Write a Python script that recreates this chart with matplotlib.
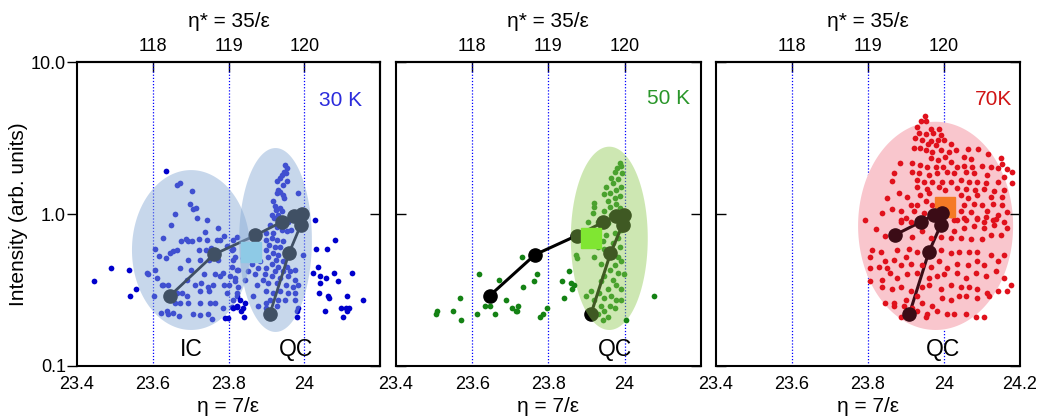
import numpy as np
import matplotlib
matplotlib.use('Agg')
import matplotlib.pyplot as plt
from matplotlib.ticker import NullLocator

plt.rcParams['font.family'] = ['Liberation Sans', 'DejaVu Sans']

# ---- data (eta, intensity) ----
# big dots joined by the line (same tail in all panels)
path30 = [(23.645, 0.289), (23.762, 0.543), (23.871, 0.724), (23.940, 0.886), (23.973, 0.97),
          (23.995, 1.00), (23.991, 0.85), (23.960, 0.556), (23.909, 0.22)]
path50 = [(23.646, 0.29), (23.765, 0.54), (23.874, 0.72), (23.943, 0.88), (23.978, 0.97),
          (23.998, 0.99), (23.995, 0.85), (23.963, 0.55), (23.912, 0.22)]
path70 = [(23.872, 0.73), (23.940, 0.89), (23.973, 0.985), (23.995, 1.01), (23.992, 0.85),
          (23.960, 0.56), (23.909, 0.22)]

# squares
sq30 = (23.859, 0.56)
sq50 = (23.913, 0.70)
sq70 = (24.002, 1.11)

# 30 K points inside the IC / QC regions
pts30_in = [
    (23.663, 1.55), (23.672, 1.61), (23.703, 1.42), (23.698, 1.16), (23.707, 1.08), (23.714, 1.10),
    (23.659, 1.00), (23.718, 0.94), (23.742, 0.92), (23.647, 0.85), (23.738, 0.76), (23.773, 0.81),
    (23.626, 0.70), (23.674, 0.66), (23.688, 0.68), (23.694, 0.66), (23.703, 0.66), (23.723, 0.68),
    (23.742, 0.67), (23.769, 0.67), (23.778, 0.67), (23.788, 0.72), (23.663, 0.58), (23.654, 0.57),
    (23.646, 0.55), (23.635, 0.51), (23.617, 0.53), (23.606, 0.59), (23.723, 0.58), (23.741, 0.58),
    (23.753, 0.60), (23.694, 0.50), (23.725, 0.50), (23.749, 0.50), (23.771, 0.50), (23.584, 0.41),
    (23.588, 0.40), (23.606, 0.43), (23.612, 0.38), (23.672, 0.44), (23.700, 0.43), (23.735, 0.40),
    (23.764, 0.40), (23.778, 0.39), (23.786, 0.41), (23.628, 0.34), (23.624, 0.34), (23.641, 0.34),
    (23.690, 0.37), (23.712, 0.34), (23.727, 0.35), (23.747, 0.33), (23.758, 0.34), (23.788, 0.34),
    (23.602, 0.29), (23.663, 0.30), (23.676, 0.30), (23.690, 0.29), (23.725, 0.31), (23.749, 0.31),
    (23.659, 0.26), (23.672, 0.26), (23.694, 0.26), (23.725, 0.26), (23.751, 0.26), (23.764, 0.26),
    (23.785, 0.24), (23.621, 0.222), (23.637, 0.23), (23.639, 0.22), (23.653, 0.224), (23.670, 0.213),
    (23.705, 0.22), (23.725, 0.216), (23.747, 0.22), (23.756, 0.203), (23.808, 0.245), (23.795, 0.30),
    (23.800, 0.34), (23.804, 0.39), (23.808, 0.45), (23.813, 0.50), (23.822, 0.43), (23.817, 0.36),
    (23.822, 0.29), (23.823, 0.245), (23.813, 0.59), (23.795, 0.62),
    (23.949, 2.10), (23.953, 2.00), (23.946, 1.90), (23.952, 1.85), (23.940, 1.81), (23.936, 1.72),
    (23.955, 1.66), (23.929, 1.66), (23.944, 1.55), (23.931, 1.44), (23.937, 1.40), (23.927, 1.37),
    (23.943, 1.33), (23.984, 1.38), (23.946, 1.27), (23.918, 1.21), (23.922, 1.13), (23.936, 1.09),
    (23.925, 1.06), (23.940, 1.04), (23.931, 0.99), (23.914, 0.99), (23.920, 0.94), (23.966, 0.95),
    (23.958, 0.89), (23.909, 0.85), (23.927, 0.82), (23.940, 0.79), (23.966, 0.79), (23.953, 0.77),
    (23.918, 0.75), (23.900, 0.75), (23.899, 0.67), (23.914, 0.69), (23.927, 0.67), (23.944, 0.66),
    (23.908, 0.63), (23.922, 0.61), (23.936, 0.61), (23.900, 0.58), (23.918, 0.55), (23.931, 0.54),
    (23.958, 0.54), (23.905, 0.52), (23.925, 0.50), (23.943, 0.49), (23.997, 0.54), (23.914, 0.47),
    (23.931, 0.45), (23.953, 0.45), (23.900, 0.44), (23.922, 0.42), (23.944, 0.42), (23.962, 0.42),
    (23.975, 0.43), (23.896, 0.40), (23.916, 0.39), (23.936, 0.38), (23.958, 0.39), (23.975, 0.37),
    (23.892, 0.37), (23.905, 0.35), (23.927, 0.35), (23.952, 0.34), (23.971, 0.33), (23.984, 0.34),
    (23.900, 0.31), (23.918, 0.30), (23.936, 0.31), (23.958, 0.30), (23.975, 0.30), (23.909, 0.27),
    (23.931, 0.27), (23.949, 0.27), (23.975, 0.27), (23.900, 0.26), (23.927, 0.25), (23.984, 0.24),
    (23.980, 0.23), (23.900, 0.24), (23.878, 0.25), (23.865, 0.29), (23.874, 0.34), (23.870, 0.40),
    (23.878, 0.44), (23.883, 0.49), (23.861, 0.47), (23.852, 0.42), (23.843, 0.37), (23.826, 0.33),
    (23.821, 0.30), (23.813, 0.27), (23.817, 0.38), (23.826, 0.43), (23.839, 0.51), (23.817, 0.52),
    (23.808, 0.58), (23.813, 0.67), (23.821, 0.71),
]
# 30 K points outside the shaded regions
pts30_out = [
    (23.446, 0.36), (23.489, 0.44), (23.536, 0.43), (23.555, 0.32), (23.540, 0.29), (23.635, 1.93),
    (23.791, 0.206), (23.798, 0.208), (24.028, 0.91), (24.081, 0.67), (24.032, 0.59), (24.061, 0.59),
    (24.037, 0.45), (24.022, 0.41), (24.041, 0.39), (24.057, 0.38), (24.041, 0.35), (24.079, 0.41),
    (24.090, 0.36), (24.127, 0.41), (24.040, 0.30), (24.063, 0.29), (24.065, 0.28), (24.113, 0.29),
    (24.154, 0.27), (24.097, 0.24), (24.110, 0.24), (24.119, 0.24), (24.113, 0.23), (24.103, 0.21),
    (24.054, 0.23), (23.981, 0.21), (23.839, 0.24), (23.843, 0.26), (23.830, 0.27), (23.821, 0.25),
    (23.832, 0.23), (23.811, 0.24), (23.841, 0.21),
]

# 50 K
pts50_in = [
    (23.987, 2.18), (23.991, 2.07), (23.981, 2.00), (23.974, 1.90), (23.993, 1.85), (23.965, 1.72),
    (23.983, 1.69), (23.969, 1.59), (23.991, 1.51), (23.952, 1.51), (23.978, 1.44), (23.961, 1.37),
    (23.947, 1.35), (23.987, 1.31), (23.974, 1.27), (23.921, 1.19), (23.956, 1.21), (23.978, 1.17),
    (23.919, 1.12), (23.961, 1.12), (23.987, 1.09), (23.917, 1.01), (23.947, 1.04), (23.965, 0.99),
    (23.903, 0.89), (23.930, 0.89), (23.956, 0.87), (23.991, 0.79), (23.974, 0.75), (23.952, 0.73),
    (23.983, 0.69), (23.943, 0.66), (23.969, 0.64), (23.987, 0.61), (23.947, 0.59), (23.930, 0.61),
    (23.956, 0.55), (23.983, 0.52), (23.921, 0.52), (23.873, 0.54), (23.875, 0.51), (23.939, 0.47),
    (23.974, 0.46), (23.991, 0.49), (23.961, 0.43), (23.983, 0.41), (23.998, 0.40), (23.947, 0.39),
    (23.969, 0.37), (23.939, 0.36), (23.978, 0.34), (23.956, 0.32), (23.991, 0.32), (23.934, 0.30),
    (23.965, 0.29), (23.947, 0.28), (23.978, 0.27), (23.921, 0.27), (23.991, 0.27), (23.939, 0.25),
    (23.961, 0.25), (23.974, 0.24), (23.917, 0.23), (23.947, 0.23), (23.930, 0.22), (23.956, 0.21),
    (23.943, 0.20), (23.899, 0.29), (23.912, 0.31),
]
pts50_out = [
    (23.617, 0.40), (23.670, 0.37), (23.732, 0.52), (23.771, 0.40), (23.763, 0.36), (23.734, 0.33),
    (23.569, 0.28), (23.549, 0.23), (23.507, 0.23), (23.506, 0.22), (23.571, 0.20), (23.613, 0.22),
    (23.635, 0.25), (23.646, 0.25), (23.661, 0.22), (23.690, 0.27), (23.704, 0.24), (23.714, 0.23),
    (23.720, 0.25), (23.717, 0.23), (23.778, 0.21), (23.787, 0.22), (23.796, 0.24), (23.837, 0.36),
    (23.859, 0.35), (23.868, 0.34), (23.861, 0.32), (23.855, 0.42), (23.842, 0.28), (24.078, 0.29),
    (24.005, 0.20),
]

# 70 K
pts70 = [
    (23.949, 4.42), (23.940, 4.11), (23.954, 4.09), (23.930, 3.75), (23.965, 3.62), (23.987, 3.62),
    (23.934, 3.39), (23.952, 3.34), (23.972, 3.39), (23.991, 3.31), (23.925, 3.15), (23.943, 3.07),
    (23.965, 3.02), (23.984, 3.07), (24.000, 3.07), (23.958, 2.87), (23.978, 2.84), (24.018, 2.87),
    (23.921, 2.70), (23.938, 2.70), (23.952, 2.64), (23.969, 2.57), (23.991, 2.64), (24.013, 2.57),
    (24.031, 2.64), (24.062, 2.66), (24.090, 2.66), (24.116, 2.47), (24.150, 2.32), (24.154, 2.12),
    (24.053, 2.38), (24.070, 2.30), (23.965, 2.32), (23.984, 2.27), (24.004, 2.38), (24.018, 2.21),
    (23.884, 2.15), (23.916, 2.15), (23.938, 2.10), (23.956, 2.05), (23.978, 2.05), (23.998, 2.05),
    (24.033, 2.05), (24.053, 2.08), (24.075, 2.05), (24.101, 2.08), (24.123, 2.05), (24.141, 2.00),
    (24.167, 1.98), (24.178, 1.88), (23.868, 1.85), (23.916, 1.90), (23.934, 1.85), (23.960, 1.80),
    (23.982, 1.85), (24.009, 1.90), (24.026, 1.85), (24.057, 1.90), (24.079, 1.85), (24.114, 1.80),
    (24.158, 1.76), (23.864, 1.65), (23.930, 1.67), (23.947, 1.62), (23.969, 1.62), (23.996, 1.62),
    (24.018, 1.63), (24.044, 1.67), (24.066, 1.63), (24.088, 1.63), (24.110, 1.59), (24.141, 1.62),
    (24.180, 1.59), (23.881, 1.37), (23.930, 1.51), (23.956, 1.47), (23.987, 1.51), (24.004, 1.44),
    (24.035, 1.49), (24.057, 1.46), (24.081, 1.44), (24.106, 1.47), (24.132, 1.42), (24.158, 1.44),
    (23.850, 1.27), (23.903, 1.30), (23.938, 1.33), (23.960, 1.37), (24.044, 1.33), (24.062, 1.27),
    (24.088, 1.33), (24.123, 1.30), (24.154, 1.30), (23.837, 1.01), (23.864, 1.08), (23.886, 1.05),
    (23.912, 1.15), (23.930, 1.15), (23.952, 1.21), (23.969, 1.15), (24.053, 1.15), (24.079, 1.17),
    (24.101, 1.15), (24.128, 1.17), (24.154, 1.15), (23.899, 0.94), (23.921, 1.04), (23.947, 1.01),
    (24.044, 1.04), (24.070, 1.03), (24.088, 0.94), (24.114, 1.05), (24.141, 0.98), (24.167, 1.03),
    (23.793, 0.91), (23.886, 0.88), (24.018, 0.98), (24.035, 0.91), (24.057, 0.91), (24.106, 0.88),
    (24.128, 0.91), (24.158, 0.89),
    (23.820, 0.80), (23.886, 0.91), (23.912, 0.89), (24.026, 0.91), (24.053, 0.94), (24.088, 0.93),
    (24.110, 0.96), (24.136, 0.93), (24.167, 0.81), (24.132, 0.85), (24.106, 0.81), (24.079, 0.83),
    (24.053, 0.81), (24.026, 0.77), (23.846, 0.72), (23.916, 0.71), (23.943, 0.77), (23.965, 0.69),
    (23.991, 0.71), (24.018, 0.69), (24.044, 0.70), (24.070, 0.68), (24.101, 0.68), (24.123, 0.73),
    (24.150, 0.73), (23.811, 0.58), (23.806, 0.52), (23.833, 0.56), (23.877, 0.58), (23.908, 0.59),
    (23.930, 0.56), (23.899, 0.52), (23.868, 0.50), (23.846, 0.49), (23.991, 0.58), (24.018, 0.55),
    (24.040, 0.56), (24.066, 0.56), (24.088, 0.56), (24.123, 0.54), (24.158, 0.54), (23.806, 0.44),
    (23.828, 0.45), (23.850, 0.44), (23.886, 0.46), (23.912, 0.47), (23.943, 0.46), (23.965, 0.45),
    (23.987, 0.49), (24.009, 0.44), (24.035, 0.47), (24.062, 0.46), (24.088, 0.49), (24.106, 0.46),
    (24.141, 0.49), (23.806, 0.36), (23.837, 0.37), (23.859, 0.41), (23.877, 0.38), (23.903, 0.40),
    (23.930, 0.41), (23.960, 0.38), (23.982, 0.39), (24.000, 0.40), (24.035, 0.41), (24.057, 0.38),
    (24.084, 0.41), (24.110, 0.39), (24.136, 0.42), (24.158, 0.38), (24.176, 0.34), (23.837, 0.33),
    (23.864, 0.32), (23.886, 0.33), (23.912, 0.31), (23.943, 0.33), (23.960, 0.34), (23.991, 0.32),
    (24.018, 0.34), (24.044, 0.33), (24.066, 0.33), (24.088, 0.32), (24.114, 0.30), (24.141, 0.31),
    (24.167, 0.31), (23.846, 0.26), (23.868, 0.26), (23.899, 0.27), (23.930, 0.29), (23.943, 0.26),
    (23.969, 0.25), (23.996, 0.28), (24.018, 0.27), (24.040, 0.29), (24.057, 0.29), (24.088, 0.28),
    (24.119, 0.29), (23.868, 0.25), (23.894, 0.25), (23.930, 0.23), (23.956, 0.22), (23.982, 0.23),
    (24.009, 0.22), (24.026, 0.22), (24.057, 0.22), (24.084, 0.21), (24.106, 0.21), (23.886, 0.21),
    (23.952, 0.21), (23.916, 0.24),
]

xtick_vals = [23.4, 23.6, 23.8, 24.0, 24.2]
xtick_labels_full = ['23.4', '23.6', '23.8', '24', '24.2']
xtick_labels_cut = ['23.4', '23.6', '23.8', '24', '']
top_ticks = [118, 119, 120]

DOT = 17


def xy(pts):
    a = np.array(pts)
    return a[:, 0], a[:, 1]


def ellipse(ax, cx, hw, cly, hh, color, alpha, z):
    t = np.linspace(0, 2 * np.pi, 200)
    ax.fill(cx + hw * np.cos(t), 10 ** (cly + hh * np.sin(t)),
            color=color, alpha=alpha, lw=0, zorder=z)


def setup(ax, first, labels):
    ax.set_yscale('log')
    ax.set_xlim(23.4, 24.2)
    ax.set_ylim(0.1, 10)
    for v in (23.6, 23.8, 24.0):
        ax.axvline(v, color='blue', ls=(0, (1, 1.5)), lw=0.9, zorder=0.5)
    ax.set_xticks(xtick_vals, labels)
    ax.tick_params(axis='x', length=0, pad=7, labelsize=13, top=False)
    ax.yaxis.set_minor_locator(NullLocator())
    ax.set_yticks([0.1, 1, 10])
    if first:
        ax.set_yticklabels(['0.1', '1.0', '10.0'])
        ax.tick_params(axis='y', direction='out', length=7, width=1, pad=1,
                       labelsize=13, right=False)
        secy = ax.secondary_yaxis('right')
        secy.set_yticks([0.1, 1, 10])
        secy.yaxis.set_minor_locator(NullLocator())
        secy.tick_params(direction='in', length=7, width=1, labelright=False)
        secy.spines['right'].set_linewidth(1.5)
        ax.set_ylabel('Intensity (arb. units)', fontsize=15, labelpad=2)
    else:
        ax.tick_params(axis='y', direction='in', length=7, width=1,
                       left=True, right=True, labelleft=False)
    sec = ax.secondary_xaxis('top', functions=(lambda x: 5 * x, lambda x: x / 5))
    sec.set_xticks(top_ticks)
    sec.tick_params(direction='in', length=7, width=1, labelsize=13, pad=5)
    sec.set_xlabel('η* = 35/ε', fontsize=15, labelpad=8)
    sec.spines['top'].set_linewidth(1.5)
    ax.set_xlabel('η = 7/ε', fontsize=15, labelpad=3)
    for s in ax.spines.values():
        s.set_linewidth(1.5)


fig = plt.figure(figsize=(10.54, 4.19), dpi=100)
ax1 = fig.add_axes([0.0731, 0.1265, 0.2875, 0.7255])
ax2 = fig.add_axes([0.3757, 0.1265, 0.2891, 0.7255])
ax3 = fig.add_axes([0.6793, 0.1265, 0.2884, 0.7255])

# ---- 30 K ----
x, y = xy(pts30_in)
ax1.scatter(x, y, s=DOT, color='#0000cc', lw=0, zorder=1)
x, y = xy(path30)
ax1.plot(x, y, '-o', color='black', lw=2, ms=9.5, zorder=2)
ellipse(ax1, 23.701, 0.156, -0.237, 0.526, '#89abd6', 0.47, 3)
ellipse(ax1, 23.924, 0.096, -0.171, 0.605, '#89abd6', 0.47, 3)
x, y = xy(pts30_out)
ax1.scatter(x, y, s=DOT, color='#0000cc', lw=0, zorder=4)
ax1.plot(*sq30, 's', color='#8ecae6', ms=14.5, zorder=5)
ax1.text(0.87, 0.875, '30 K', color='#2b2bdc', fontsize=15, transform=ax1.transAxes,
         ha='center', va='center')
ax1.text(0.377, 0.055, 'IC', fontsize=16.5, transform=ax1.transAxes, ha='center', va='center')
ax1.text(0.723, 0.055, 'QC', fontsize=16.5, transform=ax1.transAxes, ha='center', va='center')
setup(ax1, True, xtick_labels_cut)

# ---- 50 K ----
x, y = xy(pts50_in)
ax2.scatter(x, y, s=DOT, color='#148214', lw=0, zorder=1)
x, y = xy(path50)
ax2.plot(x, y, '-o', color='black', lw=2.2, ms=9.5, zorder=2)
ellipse(ax2, 23.960, 0.101, -0.160, 0.603, '#90cb51', 0.443, 3)
x, y = xy(pts50_out)
ax2.scatter(x, y, s=DOT, color='#148214', lw=0, zorder=4)
ax2.plot(*sq50, 's', color='#80e632', ms=14.5, zorder=5)
ax2.text(0.894, 0.881, '50 K', color='#2a962a', fontsize=15, transform=ax2.transAxes,
         ha='center', va='center')
ax2.text(0.719, 0.055, 'QC', fontsize=16.5, transform=ax2.transAxes, ha='center', va='center')
setup(ax2, False, xtick_labels_cut)

# ---- 70 K ----
ellipse(ax3, 23.978, 0.204, -0.078, 0.685, '#f9c6cd', 1.0, 1)
x, y = xy(path70)
ax3.plot(x, y, '-', color='#3b0c16', lw=2.2, zorder=1.5)
x, y = xy(pts70)
ax3.scatter(x, y, s=DOT, color='#e0111c', lw=0, zorder=2)
ax3.plot(*sq70, 's', color='#f57a25', ms=14.5, zorder=3)
x, y = xy(path70)
ax3.plot(x, y, 'o', color='#3b0c16', ms=9.5, zorder=4)
ax3.text(0.912, 0.877, '70K', color='#d01414', fontsize=15, transform=ax3.transAxes,
         ha='center', va='center')
ax3.text(0.748, 0.055, 'QC', fontsize=16.5, transform=ax3.transAxes, ha='center', va='center')
setup(ax3, False, xtick_labels_full)

fig.savefig('out.png', dpi=100)
